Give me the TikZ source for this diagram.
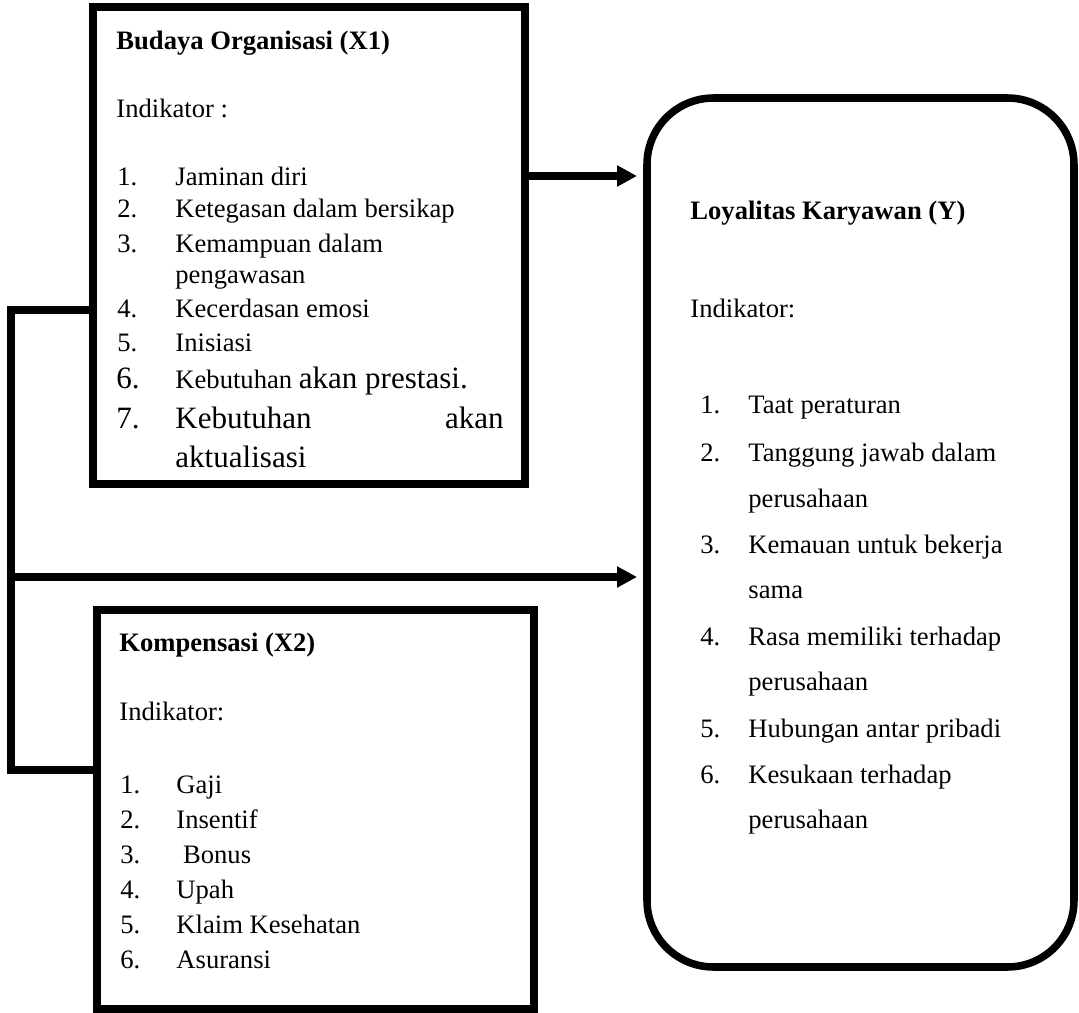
\documentclass[tikz,border=0pt]{standalone}
\usepackage{fontspec}
\setmainfont{Liberation Serif}
\usetikzlibrary{arrows.meta,fit}
\tikzset{
  frame/.style ={draw,line width=3.4pt,inner sep=0pt,outer sep=0pt},
  rframe/.style={frame,rounded corners=30pt},
  link/.style  ={line width=3.4pt,line join=miter},
  ar/.style    ={link,-{Triangle[length=9pt,width=9pt]},shorten >=4.5pt},
  head/.style  ={anchor=base west,inner sep=0pt,font=\fontsize{12}{14}\selectfont\bfseries},
  txt/.style   ={anchor=base west,inner sep=0pt,font=\fontsize{12}{14}\selectfont},
  big/.style   ={txt,font=\fontsize{14}{16}\selectfont},
}
\begin{document}
\begin{tikzpicture}[x=0.451pt,y=-0.451pt]
  \useasboundingbox (0,0) rectangle (1079,1013);
  % the three boxes
  \coordinate (c1) at (93,7);   \coordinate (c2) at (525,484);
  \coordinate (c3) at (97,610); \coordinate (c4) at (534,1009);
  \coordinate (c5) at (647,98); \coordinate (c6) at (1074,967);
  \node[frame,fit=(c1)(c2)] (x1) {};
  \node[frame,fit=(c3)(c4)] (x2) {};
  \node[rframe,fit=(c5)(c6)] (y) {};
  % connectors
  \coordinate (bt) at (11,310);
  \coordinate (bm) at (11,577);
  \coordinate (bb) at (11,770);
  \coordinate (am) at (0,176);
  \draw[link] (x1.west |- bt) -- (bt) -- (bb) -- (x2.west |- bb);
  \draw[ar] (x1.east |- am) -- (y.west |- am);
  \draw[ar] (bm) -- (y.west |- bm);
  % Budaya Organisasi
  \node[head] (h1) at (116,50) {Budaya Organisasi (X1)};
  \node[txt] (k1) at (116,117) {Indikator :};
  \foreach \y/\n/\s [count=\k] in {185/1./Jaminan diri,217/2./Ketegasan dalam bersikap,
      252/3./Kemampuan dalam,317/4./Kecerdasan emosi,351/5./Inisiasi}{
    \node[txt] (n1-\k) at (117,\y) {\n};
    \node[txt] (s1-\k) at (175,\y) {\s};
  }
  \node[txt] (s1-3b) at (175,283) {pengawasan};
  \node[big] (n1-6) at (116,388) {6.};
  \node[txt] (s1-6) at (175,388) {Kebutuhan {\fontsize{14}{16}\selectfont akan prestasi.}};
  \node[big] (n1-7) at (116,428) {7.};
  \node[big] (s1-7) at (175,428) {\hbox to 148pt{Kebutuhan\hfill akan}};
  \node[big] (s1-7b) at (175,467) {aktualisasi};
  % Loyalitas Karyawan
  \node[head] (h3) at (690,220) {Loyalitas Karyawan (Y)};
  \node[txt] (k3) at (690,317) {Indikator:};
  \foreach \y/\n/\s [count=\k] in {413/1./Taat peraturan,461/2./Tanggung jawab dalam,
      553/3./Kemauan untuk bekerja,645/4./Rasa memiliki terhadap,
      737/5./Hubungan antar pribadi,783/6./Kesukaan terhadap}{
    \node[txt] (n3-\k) at (700,\y) {\n};
    \node[txt] (s3-\k) at (748,\y) {\s};
  }
  \node[txt] (s3-2b) at (748,507) {perusahaan};
  \node[txt] (s3-3b) at (748,598) {sama};
  \node[txt] (s3-4b) at (748,690) {perusahaan};
  \node[txt] (s3-6b) at (748,828) {perusahaan};
  % Kompensasi
  \node[head] (h2) at (119,651) {Kompensasi (X2)};
  \node[txt] (k2) at (119,720) {Indikator:};
  \foreach \y/\n/\s [count=\k] in {793/1./Gaji,828/2./Insentif,863/3./\ Bonus,
      898/4./Upah,933/5./Klaim Kesehatan,968/6./Asuransi}{
    \node[txt] (n2-\k) at (120,\y) {\n};
    \node[txt] (s2-\k) at (176,\y) {\s};
  }
\end{tikzpicture}
\end{document}
